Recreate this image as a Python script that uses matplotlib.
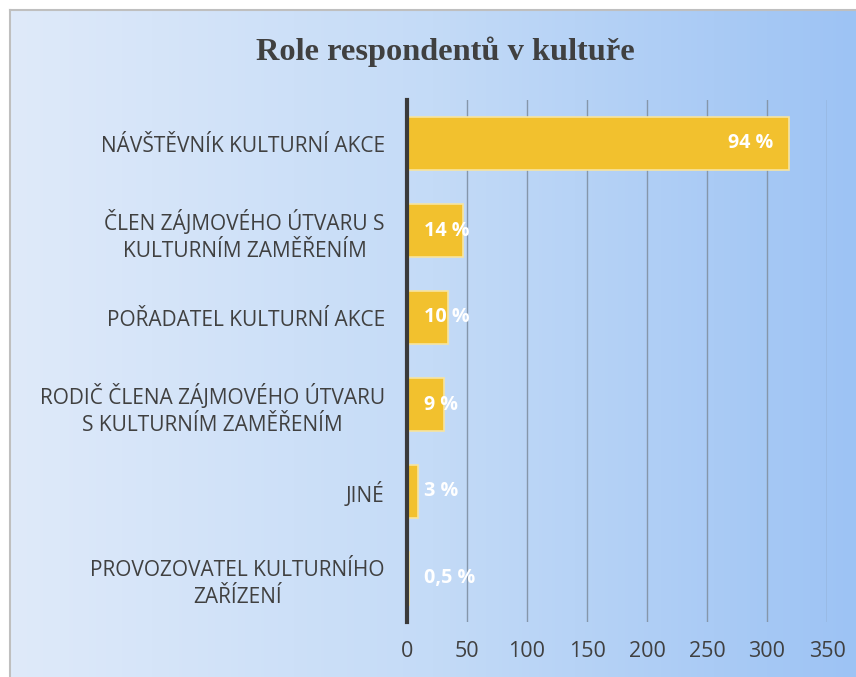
import matplotlib.pyplot as plt
import numpy as np
from matplotlib.colors import LinearSegmentedColormap

# data
categories = ['NÁVŠTĚVNÍK KULTURNÍ AKCE',
              'ČLEN ZÁJMOVÉHO ÚTVARU S\nKULTURNÍM ZAMĚŘENÍM',
              'POŘADATEL KULTURNÍ AKCE',
              'RODIČ ČLENA ZÁJMOVÉHO ÚTVARU\nS KULTURNÍM ZAMĚŘENÍM',
              'JINÉ',
              'PROVOZOVATEL KULTURNÍHO\nZAŘÍZENÍ']
counts = [318, 47, 34, 31, 9, 2]
pct_labels = ['94 %', '14 %', '10 %', '9 %', '3 %', '0,5 %']

plt.rcParams['font.family'] = ['Open Sans', 'DejaVu Sans']

fig = plt.figure(figsize=(8.56, 6.77), dpi=100)
fig.patch.set_facecolor('white')

# gradient background panel with grey frame
bg = fig.add_axes([10 / 856, 0, 1 - 10 / 856, 1 - 10 / 677], zorder=0)
cmap = LinearSegmentedColormap.from_list('bg', ['#dfeafa', '#c4dbf7', '#9dc3f4'])
bg.imshow(np.linspace(0, 1, 256).reshape(1, -1), aspect='auto', cmap=cmap,
          extent=[0, 1, 0, 1])
bg.set_xticks([])
bg.set_yticks([])
for s in bg.spines.values():
    s.set_color('#bfbfbf')
    s.set_linewidth(1.5)
bg.spines['right'].set_visible(False)
bg.spines['bottom'].set_visible(False)

ax = fig.add_axes([407 / 856, 1 - 622 / 677, 420 / 856, 522 / 677], zorder=1)
ax.patch.set_alpha(0)

y = np.arange(len(categories))
bar_colors = ['#f2c12e'] * 5 + ['#e8e0c8']
ax.barh(y, counts, height=0.6, color=bar_colors, edgecolor='#f7e4a0',
        linewidth=1.2, zorder=3)

for i, (v, lab) in enumerate(zip(counts, pct_labels)):
    if v > 100:
        ax.text(v - 13, i, lab, ha='right', va='center', color='white',
                fontsize=14.2, fontweight='bold', zorder=4)
    else:
        ax.text(14, i, lab, ha='left', va='center',
                color='white', fontsize=14.2, fontweight='bold', zorder=4)

ax.set_xlim(0, 350)
ax.set_ylim(5.5, -0.5)
ax.set_xticks(range(0, 351, 50))
ax.set_yticks(y)
ax.set_yticklabels(categories, fontsize=15, color='#404040',
                   linespacing=1.35, multialignment='center')
ax.tick_params(axis='both', length=0, labelcolor='#404040')
ax.tick_params(axis='x', labelsize=15.5, pad=14)
ax.tick_params(axis='y', pad=16)
ax.grid(axis='x', color='#8596aa', linewidth=1, zorder=0)
ax.set_axisbelow(True)

for s in ['top', 'right', 'bottom']:
    ax.spines[s].set_visible(False)
ax.spines['left'].set_color('#3a3a3a')
ax.spines['left'].set_linewidth(3)
ax.spines['left'].set_zorder(5)

fig.text(0.52, 1 - 52 / 677, 'Role respondentů v kultuře', ha='center',
         va='center', fontsize=23.3, fontweight='bold', color='#404040',
         family=['Liberation Serif', 'DejaVu Serif'])

fig.savefig('out.png', dpi=100)
